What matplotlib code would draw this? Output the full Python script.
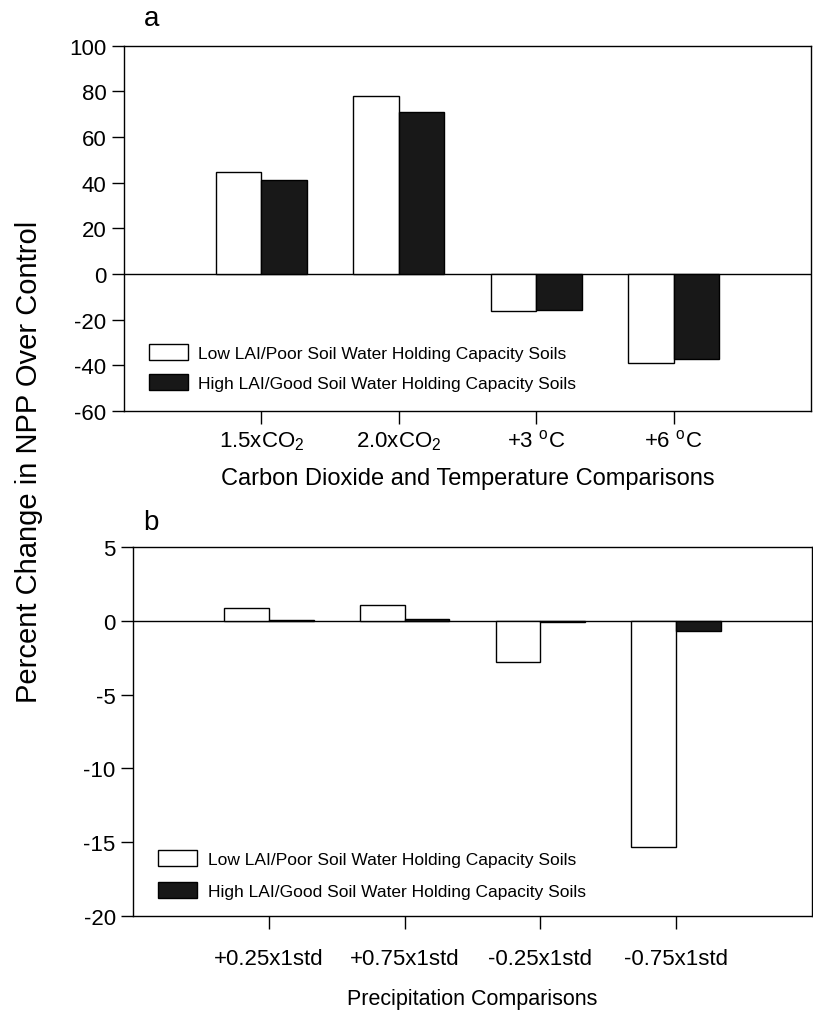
import matplotlib
matplotlib.use('Agg')
import matplotlib.pyplot as plt
import numpy as np

plt.rc('font', family=['Liberation Sans', 'DejaVu Sans'])
plt.rc('axes', unicode_minus=False)
plt.rc('mathtext', fontset='custom', rm='Liberation Sans')

# panel a: CO2 / temperature
cats_a = ['1.5xCO$_2$', '2.0xCO$_2$', '+3 $^{\\rm o}$C', '+6 $^{\\rm o}$C']
low_a = [44.5, 77.9, -16.3, -38.8]
high_a = [41.4, 70.9, -15.7, -37.4]

# panel b: precipitation
cats_b = ['+0.25x1std', '+0.75x1std', '-0.25x1std', '-0.75x1std']
low_b = [0.86, 1.09, -2.76, -15.3]
high_b = [0.07, 0.10, -0.05, -0.72]

series_names = ['Low LAI/Poor Soil Water Holding Capacity Soils',
                'High LAI/Good Soil Water Holding Capacity Soils']

fig = plt.figure(figsize=(8.13, 10.12), dpi=100)
ax1 = fig.add_axes([0.1525, 0.593, 0.845, 0.3607])
ax2 = fig.add_axes([0.1636, 0.0939, 0.835, 0.3646])

w = 0.33


def draw(ax, cats, low, high, ylim, yticks, xlabel, xlsize, leg_anchor, spacing):
    x = np.arange(1, len(cats) + 1)
    ax.bar(x - w / 2, low, w, color='white', edgecolor='k', lw=1.0,
           label=series_names[0], zorder=2)
    ax.bar(x + w / 2, high, w, color='#181818', edgecolor='k', lw=1.0,
           label=series_names[1], zorder=2)
    ax.axhline(0, color='k', lw=1.0, zorder=1)
    ax.set_xlim(0, 5)
    ax.set_ylim(*ylim)
    ax.set_yticks(yticks)
    ax.set_xticks(x)
    ax.set_xticklabels(cats)
    ax.tick_params(axis='both', direction='out', length=9, width=1,
                   labelsize=16)
    ax.set_xlabel(xlabel, fontsize=xlsize)
    for s in ax.spines.values():
        s.set_linewidth(1.0)
    ax.legend(loc='lower left', bbox_to_anchor=leg_anchor, frameon=False,
              fontsize=12.5, handlelength=2.25, handleheight=1.05,
              labelspacing=spacing, handletextpad=0.6, borderpad=0,
              borderaxespad=0)


draw(ax1, cats_a, low_a, high_a, (-60, 100), range(-60, 101, 20),
     'Carbon Dioxide and Temperature Comparisons', 17, (0.036, 0.055), 0.75)
draw(ax2, cats_b, low_b, high_b, (-20, 5), range(-20, 6, 5),
     'Precipitation Comparisons', 15.5, (0.037, 0.046), 0.85)
ax1.tick_params(axis='x', pad=4)
ax1.xaxis.labelpad = 11
ax2.tick_params(axis='x', pad=14)
ax2.xaxis.labelpad = 14

fig.text(0.187, 0.981, 'a', fontsize=20, ha='center', va='center')
fig.text(0.185, 0.483, 'b', fontsize=20, ha='center', va='center')
fig.text(0.036, 0.544, 'Percent Change in NPP Over Control', fontsize=21,
         rotation=90, ha='center', va='center')

fig.savefig('out.png', dpi=100)
